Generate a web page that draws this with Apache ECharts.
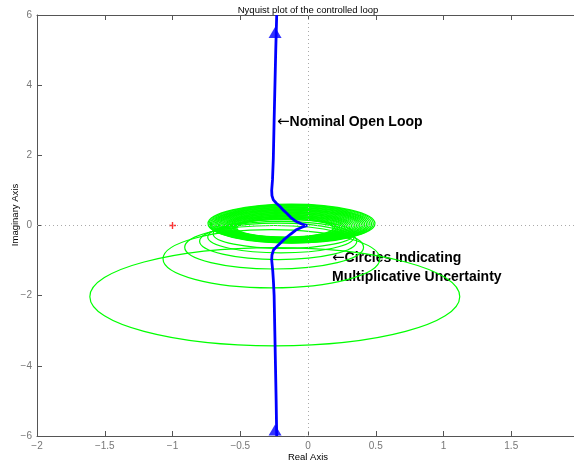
<!DOCTYPE html>
<html><head><meta charset="utf-8">
<script src="https://cdn.jsdelivr.net/npm/echarts@6/dist/echarts.min.js"></script>
<style>html,body{margin:0;padding:0;background:#fff}#c{width:574px;height:463px}</style>
</head><body><div id="c"></div>
<script>
// ---- data ----
const xTicks = [-2, -1.5, -1, -0.5, 0, 0.5, 1, 1.5, 2];
const yTicks = [-6, -4, -2, 0, 2, 4, 6];

// nominal open loop, positive frequencies (bottom -> origin)
const lowerRe = [-0.231,-0.235,-0.240,-0.245,-0.250,-0.255,-0.260,-0.265,-0.268,-0.266,-0.255,-0.220,-0.180,-0.130,-0.090,-0.045,-0.005];
const lowerIm = [-6.0,-5.0,-4.0,-3.0,-2.0,-1.6,-1.3,-1.1,-0.98,-0.84,-0.70,-0.56,-0.41,-0.25,-0.13,-0.05,0.0];
// nominal open loop, negative frequencies (origin -> top)
const upperRe = [-0.005,-0.045,-0.090,-0.130,-0.157,-0.180,-0.207,-0.235,-0.256,-0.266,-0.268,-0.262,-0.256,-0.250,-0.244,-0.238,-0.231];
const upperIm = [0.0,0.04,0.12,0.24,0.35,0.43,0.54,0.64,0.73,0.85,1.0,1.3,1.9,3.0,4.0,5.0,6.0];

// direction arrows on the nominal curve
const arrowRe = [-0.243, -0.243];
const arrowIm = [5.5, -5.83];

// critical point
const criticalRe = [-1];
const criticalIm = [0];

// uncertainty circles: centre (re, im) and half-widths along each axis
const circleCx = [-0.245,-0.270,-0.250,-0.220,-0.200,-0.180,
  -0.122,-0.124,-0.126,-0.128,-0.130,-0.132,-0.134,-0.136,-0.138,-0.139,-0.141,-0.143,-0.145,
  -0.147,-0.149,-0.151,-0.153,-0.155,-0.157,-0.159,-0.161,-0.163,-0.165,-0.167,-0.169,-0.170];
const circleCy = [-2.03,-0.95,-0.62,-0.45,-0.33,-0.24,
  0.055,0.050,0.045,0.040,0.035,0.029,0.024,0.019,0.014,0.009,0.004,-0.001,-0.006,
  -0.011,-0.016,-0.022,-0.027,-0.032,-0.037,-0.042,-0.047,-0.052,-0.057,-0.062,-0.067,-0.073];
const circleRx = [1.365,0.800,0.660,0.580,0.540,0.520,
  0.616,0.606,0.595,0.585,0.574,0.564,0.553,0.543,0.533,0.522,0.512,0.501,0.491,
  0.481,0.470,0.460,0.449,0.439,0.428,0.418,0.408,0.397,0.387,0.376,0.366,0.356];
const circleRy = [1.400,0.830,0.620,0.520,0.450,0.410,
  0.555,0.543,0.531,0.519,0.507,0.496,0.484,0.472,0.460,0.448,0.436,0.424,0.412,
  0.400,0.388,0.377,0.365,0.353,0.341,0.329,0.317,0.305,0.293,0.281,0.269,0.258];

// ---- chart ----
const FONT = '"Liberation Sans", Arial, Helvetica, sans-serif';
const pair = (a, b) => a.map((v, i) => [v, b[i]]);
const minusFmt = v => (v < 0 ? '\u2212' + Math.abs(v) : String(v));
const AX = '#555';

const chart = echarts.init(document.getElementById('c'), null, {renderer: 'canvas'});

const baseX = {
  type: 'value', min: xTicks[0], max: xTicks[xTicks.length - 1], interval: 0.5,
  splitLine: {show: false},
  axisLine: {show: true, onZero: false, lineStyle: {color: AX, width: 1}},
  axisTick: {show: true, inside: true, length: 5, lineStyle: {color: AX}},
};
const baseY = {
  type: 'value', min: yTicks[0], max: yTicks[yTicks.length - 1], interval: 2,
  splitLine: {show: false},
  axisLine: {show: true, onZero: false, lineStyle: {color: AX, width: 1}},
  axisTick: {show: true, inside: true, length: 5, lineStyle: {color: AX}},
};

chart.setOption({
  animation: false,
  backgroundColor: '#fff',
  grid: {left: 37, top: 15, width: 542, height: 421, containLabel: false, outerBoundsMode: 'none'},
  xAxis: [
    Object.assign({}, baseX, {position: 'bottom',
      axisLabel: {show: true, color: '#777', fontSize: 10, fontFamily: FONT, margin: 5, formatter: minusFmt}}),
    Object.assign({}, baseX, {position: 'top', axisLabel: {show: false}})
  ],
  yAxis: [
    Object.assign({}, baseY, {position: 'left',
      axisLabel: {show: true, color: '#777', fontSize: 10, fontFamily: FONT, margin: 5, formatter: minusFmt}}),
    Object.assign({}, baseY, {position: 'right', axisLabel: {show: false}})
  ],
  series: [
    {
      type: 'line', data: [], silent: true, z: 1,
      markLine: {
        silent: true, symbol: 'none', label: {show: false},
        lineStyle: {type: [1, 3], color: '#aaa', width: 1},
        data: [{xAxis: 0}, {yAxis: 0}]
      }
    },
    {
      type: 'custom', z: 2, silent: true,
      data: circleCx.map((v, i) => [v, circleCy[i], circleRx[i], circleRy[i]]),
      encode: {x: 0, y: 1},
      renderItem: function (params, api) {
        const c = api.coord([api.value(0), api.value(1)]);
        const s = api.size([api.value(2), api.value(3)]);
        return {
          type: 'ellipse',
          shape: {cx: c[0], cy: c[1], rx: s[0], ry: s[1]},
          style: {fill: 'none', stroke: '#00ff00', lineWidth: 1.2}
        };
      }
    },
    {
      type: 'line', z: 3, silent: true, showSymbol: false, symbol: 'none',
      data: pair(lowerRe, lowerIm),
      lineStyle: {color: '#0000ff', width: 2.8}
    },
    {
      type: 'line', z: 3, silent: true, showSymbol: false, symbol: 'none',
      data: pair(upperRe, upperIm),
      lineStyle: {color: '#0000ff', width: 2.8}
    },
    {
      type: 'scatter', z: 4, silent: true,
      data: pair(arrowRe, arrowIm),
      symbol: 'triangle', symbolSize: [13, 11],
      itemStyle: {color: '#0000ff'}
    },
    {
      type: 'scatter', z: 4, silent: true,
      data: pair(criticalRe, criticalIm),
      symbol: 'path://M0,5L10,5M5,0L5,10', symbolSize: 7,
      itemStyle: {color: 'none', borderColor: '#ff0000', borderWidth: 1.4}
    }
  ],
  graphic: [
    {type: 'text', x: 308, y: 10, silent: true,
      style: {text: 'Nyquist plot of the controlled loop', font: '9.5px ' + FONT, fill: '#000', align: 'center', verticalAlign: 'middle'}},
    {type: 'text', x: 308, y: 457, silent: true,
      style: {text: 'Real Axis', font: '9.5px ' + FONT, fill: '#000', align: 'center', verticalAlign: 'middle'}},
    {type: 'text', x: 15, y: 215, rotation: Math.PI / 2, silent: true,
      style: {text: 'Imaginary Axis', font: '9.5px ' + FONT, fill: '#000', align: 'center', verticalAlign: 'middle'}},
    {type: 'text', x: 277, y: 122, silent: true,
      style: {text: '{a|\u2190}{b|Nominal Open Loop}', align: 'left', verticalAlign: 'middle',
        rich: {a: {font: '15px "DejaVu Sans"', fill: '#000'}, b: {font: 'bold 14px ' + FONT, fill: '#000'}}}},
    {type: 'text', x: 332, y: 258.5, silent: true,
      style: {text: '{a|\u2190}{b|Circles Indicating}', align: 'left', verticalAlign: 'middle',
        rich: {a: {font: '15px "DejaVu Sans"', fill: '#000'}, b: {font: 'bold 14px ' + FONT, fill: '#000'}}}},
    {type: 'text', x: 332, y: 277, silent: true,
      style: {text: 'Multiplicative Uncertainty', font: 'bold 14px ' + FONT, fill: '#000', align: 'left', verticalAlign: 'middle'}}
  ]
});
</script>
</body></html>
